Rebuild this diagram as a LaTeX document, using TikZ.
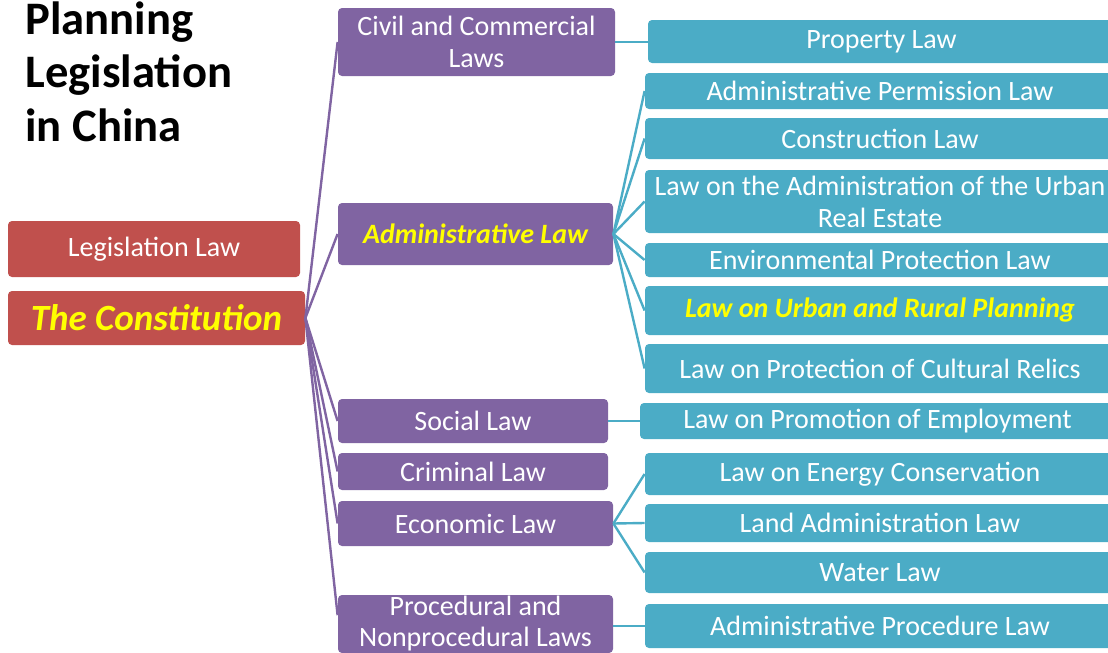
\documentclass[tikz,border=0pt]{standalone}
\usepackage{fontspec}
\setmainfont{Carlito}
\usetikzlibrary{calc}
\definecolor{lawred}{HTML}{C0504D}
\definecolor{lawpurple}{HTML}{8064A2}
\definecolor{lawblue}{HTML}{4BACC6}
\definecolor{lawyellow}{HTML}{FFFF00}
\tikzset{
	lawbox/.style={rectangle, rounded corners=2pt, inner sep=0pt, text=white, align=center,
		font=\fontsize{14}{16}\selectfont},
	redbox/.style={lawbox, fill=lawred},
	purplebox/.style={lawbox, fill=lawpurple},
	bluebox/.style={lawbox, fill=lawblue},
	purpleline/.style={draw=lawpurple, line width=1.2pt},
	blueline/.style={draw=lawblue, line width=1.2pt}
}
% box from left,top to right,bottom (pixels)
\def\lawnode[#1](#2)(#3,#4,#5,#6)#7{\node[#1, minimum width={(#5-#3)*0.5pt}, minimum height={(#6-#4)*0.5pt}] (#2) at ({(#3+#5)/2}, {(#4+#6)/2}) {#7};}
\newcommand\keylaw[1]{{\fontsize{14}{16}\selectfont\bfseries\itshape\color{lawyellow}#1}}

\begin{document}
\begin{tikzpicture}[x=0.5pt, y=-0.5pt]
		%%%%% START %%%%%
		\useasboundingbox (0, 0) rectangle (1108, 653);
		\clip (0, 0) rectangle (1108, 653);
		
		\node[anchor=north west, align=left, inner sep=0pt, font=\fontsize{23.3}{26.8}\selectfont\bfseries] (title) at (25, 1) {Planning\\Legislation\\in China};
		
		\lawnode[redbox](legis)(8, 221, 300, 277){Legislation Law};
		\lawnode[redbox](const)(8, 291, 305, 345){\fontsize{18.5}{20}\selectfont\bfseries\itshape\color{lawyellow}The Constitution};
		
		\lawnode[purplebox](civil)(338, 8, 615, 76){Civil and Commercial\\Laws};
		\lawnode[purplebox](admin)(338, 203, 613, 265){\keylaw{Administrative Law}};
		\lawnode[purplebox](social)(338, 399, 608, 443){Social Law};
		\lawnode[purplebox](crim)(338, 453, 608, 490){Criminal Law};
		\lawnode[purplebox](econ)(338, 501, 613, 546){Economic Law};
		\lawnode[purplebox, font=\fontsize{14}{15.5}\selectfont](procnp)(338, 595, 613, 653){Procedural and\\Nonprocedural Laws};
		
		\lawnode[bluebox](prop)(648, 20, 1115, 63){Property Law};
		\lawnode[bluebox](perm)(645, 73, 1115, 109){Administrative Permission Law};
		\lawnode[bluebox](constr)(645, 118, 1115, 159){Construction Law};
		\lawnode[bluebox](estate)(645, 170, 1115, 233){Law on the Administration of the Urban\\Real Estate};
		\lawnode[bluebox](env)(645, 243, 1115, 277){Environmental Protection Law};
		\lawnode[bluebox](plan)(645, 286, 1115, 335){\keylaw{Law on Urban and Rural Planning}};
		\lawnode[bluebox](relic)(645, 344, 1115, 393){Law on Protection of Cultural Relics};
		\lawnode[bluebox](employ)(640, 403, 1115, 439){Law on Promotion of Employment};
		\lawnode[bluebox](energy)(645, 453, 1115, 495){Law on Energy Conservation};
		\lawnode[bluebox](land)(645, 504, 1115, 542){Land Administration Law};
		\lawnode[bluebox](water)(645, 552, 1115, 593){Water Law};
		\lawnode[bluebox](aproc)(645, 604, 1115, 648){Administrative Procedure Law};
		
		% constitution to the branches
		\draw[purpleline] (const.east) -- (civil.west);
		\draw[purpleline] (const.east) -- (admin.west);
		\draw[purpleline] (const.east) -- (social.west);
		\draw[purpleline] (const.east) -- (crim.west);
		\draw[purpleline] (const.east) -- (econ.west);
		\draw[purpleline] (const.east) -- ($(procnp.north west)!0.35!(procnp.south west)$);
		
		% branches to the single laws
		\draw[blueline] (civil.east) -- (civil.east -| prop.west);
		\draw[blueline] (admin.east) -- (perm.west);
		\draw[blueline] (admin.east) -- (constr.west);
		\draw[blueline] (admin.east) -- (estate.west);
		\draw[blueline] (admin.east) -- (env.west);
		\draw[blueline] (admin.east) -- (plan.west);
		\draw[blueline] (admin.east) -- (relic.west);
		\draw[blueline] (social.east) -- (social.east -| employ.west);
		\draw[blueline] (econ.east) -- (energy.west);
		\draw[blueline] (econ.east) -- (land.west);
		\draw[blueline] (econ.east) -- (water.west);
		\draw[blueline] (aproc.west -| procnp.east) -- (aproc.west);
		
		%%%%% END %%%%%
\end{tikzpicture}
\end{document}
